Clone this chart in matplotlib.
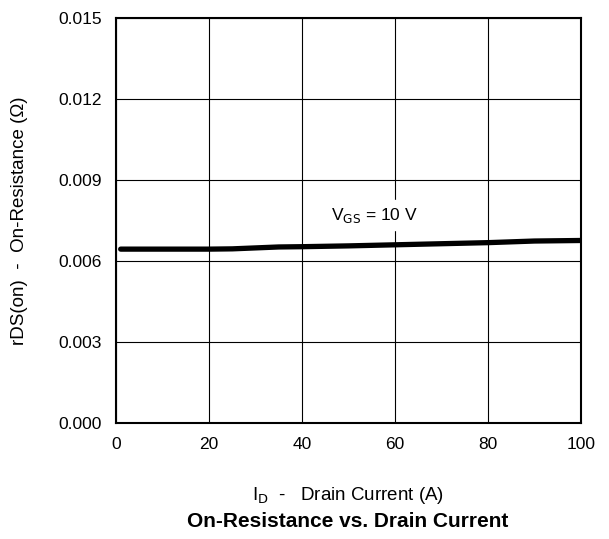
import matplotlib.pyplot as plt

plt.rcParams['font.family'] = ['Liberation Sans', 'DejaVu Sans']

drain_current = [1, 10, 20, 25, 35, 40, 50, 60, 70, 80, 90, 100]
on_resistance = [0.00644, 0.00644, 0.00644, 0.00645, 0.00652, 0.00653,
                 0.00656, 0.00660, 0.00664, 0.00668, 0.00674, 0.00676]
x_ticks = [0, 20, 40, 60, 80, 100]
y_ticks = [0.000, 0.003, 0.006, 0.009, 0.012, 0.015]

fig = plt.figure(figsize=(6.09, 5.39), dpi=100)
ax = fig.add_axes([0.1905, 0.2152, 0.7635, 0.7514])
ax.plot(drain_current, on_resistance, color='black', lw=3.8, solid_capstyle='round')
ax.set_xlim(0, 100)
ax.set_ylim(0, 0.015)
ax.set_xticks(x_ticks)
ax.set_yticks(y_ticks)
ax.set_yticklabels(["%.3f" % v for v in y_ticks])
ax.grid(True, color='black', lw=0.8)
ax.tick_params(length=0, labelsize=12.5, pad=10)
for s in ax.spines.values():
    s.set_linewidth(1.5)
ax.text(46.2, 0.0077, r"V$_{\mathrm{GS}}$ = 10 V", fontsize=12.5, va='center',
        backgroundcolor='white')
ax.set_ylabel("rDS(on)  -  On-Resistance (Ω)", fontsize=13.5, labelpad=22)
fig.text(0.571, 0.072, r"I$_{\mathrm{D}}$  -   Drain Current (A)", fontsize=13.5, ha='center')
fig.text(0.571, 0.022, "On-Resistance vs. Drain Current", fontsize=15, ha='center',
         fontweight='bold')
plt.savefig("out.png", dpi=100)
